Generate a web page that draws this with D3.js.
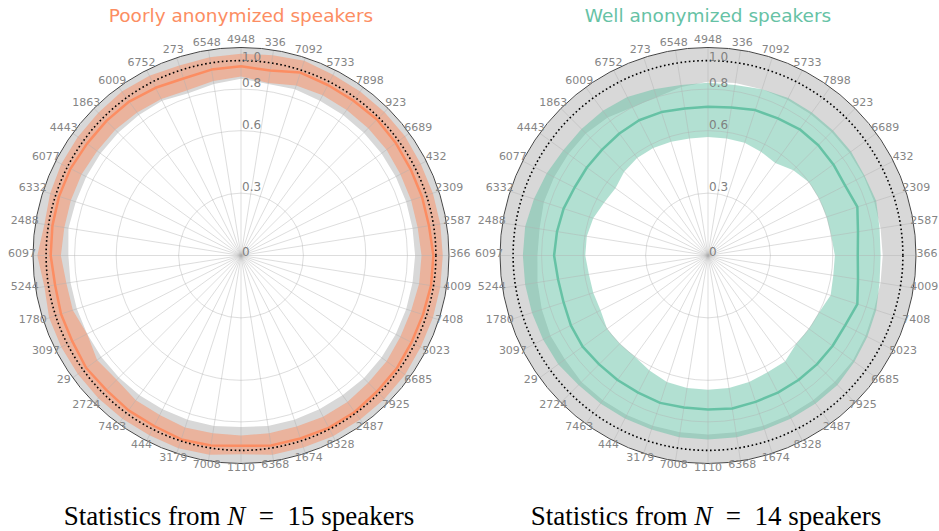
<!DOCTYPE html>
<html><head><meta charset="utf-8">
<script src="https://cdn.jsdelivr.net/npm/d3@7"></script>
<style>body{margin:0;background:#fff;} svg{display:block}</style>
</head><body><svg id="c" width="939" height="531"></svg>
<script>
const speakers = ["4948","336","7092","5733","7898","923","6689","432","2309","2587","366","4009","7408","5023","6685","7925","2487","8328","1674","6368","1110","7008","3179","444","7463","2724","29","3097","1780","5244","6097","2488","6332","6077","4443","1863","6009","6752","273","6548"];
const rGridValues = [0.3, 0.6, 0.8];
const rTickValues = [0, 0.3, 0.6, 0.8, 0.937];
const rTickLabels = ["0", "0.3", "0.6", "0.8", "1.0"];
const refRing = 0.937;

// Poorly anonymized (N = 15)
const poorMean   = [0.91,0.90,0.925,0.92,0.92,0.925,0.92,0.915,0.915,0.915,0.925,0.925,0.92,0.92,0.925,0.925,0.93,0.93,0.925,0.925,0.915,0.925,0.93,0.92,0.92,0.915,0.92,0.91,0.91,0.905,0.915,0.918,0.92,0.92,0.915,0.915,0.915,0.905,0.895,0.905];
const poorLow    = [0.86,0.84,0.86,0.865,0.865,0.865,0.865,0.86,0.86,0.86,0.868,0.867,0.86,0.86,0.865,0.865,0.87,0.87,0.865,0.865,0.865,0.865,0.87,0.86,0.86,0.845,0.855,0.83,0.85,0.85,0.866,0.86,0.86,0.86,0.855,0.855,0.85,0.845,0.835,0.85];
const poorHigh   = [0.97,0.975,0.985,0.975,0.975,0.975,0.975,0.97,0.97,0.97,0.97,0.97,0.97,0.97,0.975,0.975,0.975,0.975,0.97,0.97,0.955,0.97,0.975,0.97,0.97,0.97,0.97,0.97,0.97,0.957,0.979,0.957,0.965,0.97,0.97,0.97,0.975,0.97,0.96,0.965];
const poorRefLow = [0.85,0.835,0.84,0.835,0.835,0.835,0.835,0.835,0.835,0.835,0.837,0.835,0.835,0.835,0.835,0.835,0.83,0.83,0.83,0.83,0.825,0.83,0.83,0.83,0.83,0.83,0.83,0.83,0.83,0.83,0.83,0.84,0.835,0.835,0.835,0.835,0.835,0.835,0.82,0.835];
const poorRefHigh= [1,1,1,1,1,1,1,1,1,1,1,1,1,1,1,1,1,1,1,1,1,1,1,1,1,1,1,1,1,1,1,1,1,1,1,1,1,1,1,1];

// Well anonymized (N = 14)
const wellMean   = [0.715,0.72,0.735,0.74,0.75,0.75,0.745,0.74,0.755,0.73,0.72,0.73,0.755,0.74,0.74,0.74,0.74,0.74,0.74,0.745,0.74,0.74,0.745,0.74,0.74,0.74,0.745,0.74,0.73,0.73,0.74,0.735,0.73,0.72,0.72,0.72,0.725,0.73,0.725,0.715];
const wellLow    = [0.57,0.57,0.57,0.56,0.55,0.58,0.60,0.60,0.60,0.60,0.61,0.61,0.62,0.60,0.60,0.60,0.63,0.63,0.64,0.645,0.645,0.645,0.64,0.62,0.60,0.60,0.60,0.58,0.58,0.58,0.59,0.59,0.58,0.56,0.55,0.57,0.58,0.58,0.575,0.57];
const wellHigh   = [0.83,0.83,0.84,0.85,0.85,0.85,0.85,0.845,0.85,0.835,0.83,0.835,0.85,0.86,0.87,0.88,0.88,0.88,0.88,0.885,0.885,0.885,0.88,0.88,0.88,0.88,0.89,0.89,0.89,0.89,0.89,0.89,0.88,0.87,0.86,0.86,0.86,0.855,0.84,0.83];
const wellRefLow = [0.835,0.84,0.84,0.84,0.84,0.84,0.84,0.84,0.84,0.84,0.84,0.84,0.84,0.85,0.86,0.86,0.86,0.86,0.86,0.86,0.86,0.86,0.86,0.86,0.86,0.86,0.85,0.85,0.84,0.83,0.82,0.82,0.83,0.83,0.83,0.83,0.82,0.80,0.80,0.82];
const wellRefHigh= [1,1,1,1,1,1,1,1,1,1,1,1,1,1,1,1,1,1,1,1,1,1,1,1,1,1,1,1,1,1,1,1,1,1,1,1,1,1,1,1];

const panels = [
  {cx: 241, title: "Poorly anonymized speakers", color: "#fc8d62", n: 15,
   mean: poorMean, low: poorLow, high: poorHigh, refLow: poorRefLow, refHigh: poorRefHigh},
  {cx: 708, title: "Well anonymized speakers", color: "#66c2a5", n: 14,
   mean: wellMean, low: wellLow, high: wellHigh, refLow: wellRefLow, refHigh: wellRefHigh}
];

const svg = d3.select("#c");
const cy = 255.5, R = 208;
const r = d3.scaleLinear().domain([0, 1]).range([0, R]);
const ang = d3.scalePoint().domain(speakers).range([0, 2 * Math.PI * (speakers.length - 1) / speakers.length]);

function closedPath(vals) {
  return d3.lineRadial()
    .angle((d, i) => ang(speakers[i]))
    .radius(d => r(d))
    .curve(d3.curveLinearClosed)(vals);
}
function ringPath(inner, outer) {
  return closedPath(outer) + closedPath(inner);
}

panels.forEach(p => {
  const g = svg.append("g").attr("transform", `translate(${p.cx},${cy})`);
  g.append("path").attr("d", ringPath(p.refLow, p.refHigh))
    .attr("fill", "#d8d8d8").attr("fill-rule", "evenodd");
  g.append("path").attr("d", ringPath(p.low, p.high))
    .attr("fill", p.color).attr("fill-opacity", 0.5).attr("fill-rule", "evenodd");
  g.selectAll("circle.grid").data(rGridValues).join("circle")
    .attr("r", d => r(d)).attr("fill", "none")
    .attr("stroke", "#b0b0b0").attr("stroke-opacity", 0.55).attr("stroke-width", 0.8);
  g.selectAll("line.spoke").data(speakers).join("line")
    .attr("x1", 0).attr("y1", 0)
    .attr("x2", d => r(1) * Math.sin(ang(d)))
    .attr("y2", d => -r(1) * Math.cos(ang(d)))
    .attr("stroke", "#b0b0b0").attr("stroke-opacity", 0.55).attr("stroke-width", 0.8);
  g.append("path").attr("d", closedPath(p.mean))
    .attr("fill", "none").attr("stroke", p.color).attr("stroke-width", 2.5)
    .attr("stroke-linejoin", "round");
  g.append("circle").attr("r", r(refRing)).attr("fill", "none")
    .attr("stroke", "#000").attr("stroke-width", 1.6)
    .attr("stroke-dasharray", "1.6,2.6");
  g.append("circle").attr("r", r(1)).attr("fill", "none")
    .attr("stroke", "#444").attr("stroke-width", 1);
  g.selectAll("text.rt").data(rTickValues).join("text")
    .attr("x", 1).attr("y", d => -r(d) - (d > 0 && d < 0.9 ? 2 : 0))
    .attr("font-family", "DejaVu Sans").attr("font-size", 12)
    .attr("fill", "#808080")
    .text((d, i) => rTickLabels[i]);
  g.selectAll("text.at").data(speakers).join("text")
    .attr("x", d => 219 * Math.sin(ang(d)))
    .attr("y", d => -214 * Math.cos(ang(d)) - 2)
    .attr("text-anchor", "middle").attr("dominant-baseline", "central")
    .attr("font-family", "DejaVu Sans").attr("font-size", 11)
    .attr("fill", "#858585")
    .text(d => d);
  svg.append("text").attr("x", p.cx).attr("y", 22)
    .attr("text-anchor", "middle").attr("font-family", "DejaVu Sans")
    .attr("font-size", 18.5).attr("fill", p.color).text(p.title);
  const cap = svg.append("text").attr("x", p.cx - 2).attr("y", 525)
    .attr("text-anchor", "middle").attr("font-family", "Liberation Serif, DejaVu Serif")
    .attr("font-size", 27).attr("fill", "#000")
    .attr("xml:space", "preserve");
  cap.append("tspan").text("Statistics from ");
  cap.append("tspan").attr("font-style", "italic").text("N");
  cap.append("tspan").text("  =  " + p.n + " speakers");
});
</script></body></html>
